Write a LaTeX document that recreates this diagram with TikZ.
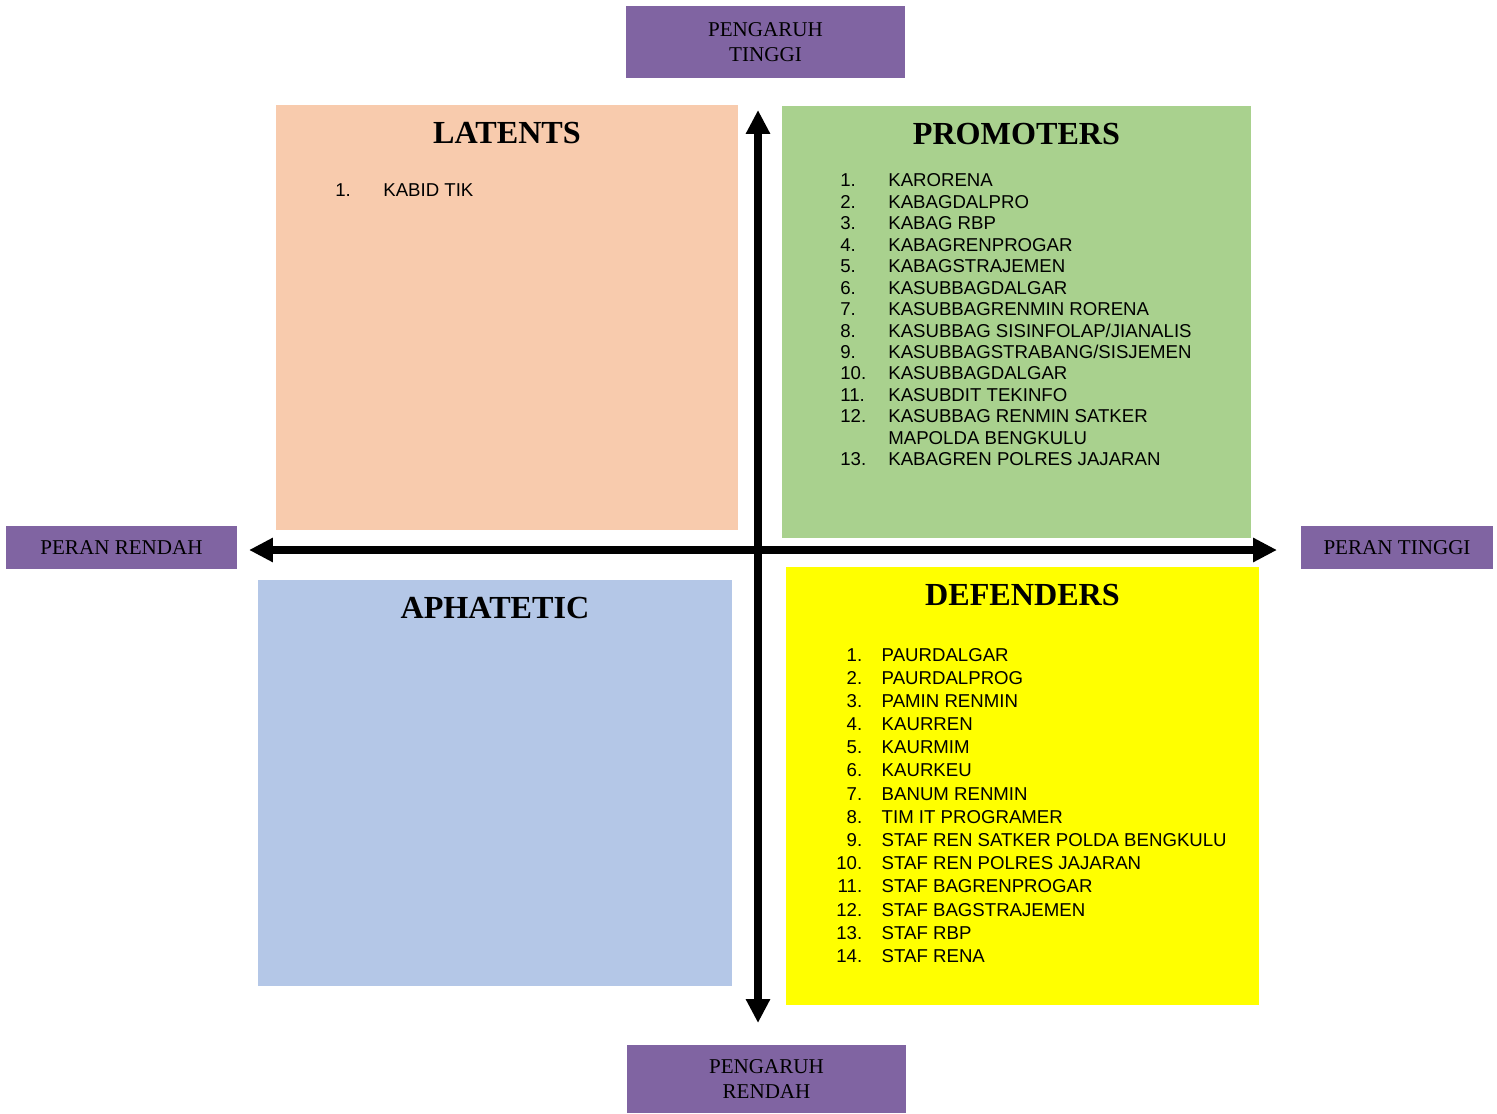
\documentclass[tikz,border=0pt]{standalone}
\usepackage{fontspec}
\setmainfont{Liberation Serif}
\setsansfont{Liberation Sans}
\usetikzlibrary{arrows.meta,positioning,calc}
\definecolor{Plum}{HTML}{8064A2}
\definecolor{Peach}{HTML}{F8CBAD}
\definecolor{Leaf}{HTML}{A9D18E}
\definecolor{Sky}{HTML}{B4C7E7}
\definecolor{Lemon}{HTML}{FFFF00}
\tikzset{
  axislabel/.style={fill=Plum,inner sep=0pt,outer sep=0pt,align=center,font=\fontsize{12}{14.2}\selectfont,text=black},
  quadbox/.style={inner sep=0pt,outer sep=0pt,anchor=north west},
  quadtitle/.style={font=\fontsize{18.3}{20}\selectfont\bfseries,text=black},
  itemlist/.style={inner sep=0pt,anchor=base west,font=\sffamily\fontsize{10.6}{12.2}\selectfont,text=black},
  axis/.style={{Triangle[length=0.48cm,width=0.46cm]}-{Triangle[length=0.48cm,width=0.46cm]},line width=0.15cm,draw=black}
}

\begin{document}
\begin{tikzpicture}[x=0.02cm,y=-0.02cm]
  \useasboundingbox (0,0) rectangle (1497,1114);
  % four quadrants
  \node[quadbox,fill=Peach,minimum width=9.24cm,minimum height=8.5cm] (latent) at (276,105) {};
  \node[quadbox,fill=Leaf,minimum width=9.38cm,minimum height=8.64cm] (promoter) at (782,106) {};
  \node[quadbox,fill=Sky,minimum width=9.48cm,minimum height=8.12cm] (apathy) at (258,580) {};
  \node[quadbox,fill=Lemon,minimum width=9.46cm,minimum height=8.76cm] (defender) at (786,567) {};
  \node[quadtitle] at ($(latent.north)+(0,28.5)$) {LATENTS};
  \node[quadtitle] at ($(promoter.north)+(0,28.5)$) {PROMOTERS};
  \node[quadtitle] at ($(apathy.north)+(0,28.5)$) {APHATETIC};
  \node[quadtitle] at ($(defender.north)+(0,28.5)$) {DEFENDERS};
  % member lists
  \node[itemlist] (latentlist) at (335,197) {\begin{tabular}[t]{@{}p{0.96cm}@{}l@{}}
    1. & KABID TIK
  \end{tabular}};
  \node[itemlist] (promoterlist) at (840,187) {\begin{tabular}[t]{@{}p{0.96cm}@{}l@{}}
    1. & KARORENA\\
    2. & KABAGDALPRO\\
    3. & KABAG RBP\\
    4. & KABAGRENPROGAR\\
    5. & KABAGSTRAJEMEN\\
    6. & KASUBBAGDALGAR\\
    7. & KASUBBAGRENMIN RORENA\\
    8. & KASUBBAG SISINFOLAP/JIANALIS\\
    9. & KASUBBAGSTRABANG/SISJEMEN\\
    10. & KASUBBAGDALGAR\\
    11. & KASUBDIT TEKINFO\\
    12. & KASUBBAG RENMIN SATKER\\
        & MAPOLDA BENGKULU\\
    13. & KABAGREN POLRES JAJARAN
  \end{tabular}};
  \node[itemlist,font=\sffamily\fontsize{10.6}{13.2}\selectfont] (defenderlist) at (836,661) {\begin{tabular}[t]{@{}r@{\hspace{0.39cm}}l@{}}
    1. & PAURDALGAR\\
    2. & PAURDALPROG\\
    3. & PAMIN RENMIN\\
    4. & KAURREN\\
    5. & KAURMIM\\
    6. & KAURKEU\\
    7. & BANUM RENMIN\\
    8. & TIM IT PROGRAMER\\
    9. & STAF REN SATKER POLDA BENGKULU\\
    10. & STAF REN POLRES JAJARAN\\
    11. & STAF BAGRENPROGAR\\
    12. & STAF BAGSTRAJEMEN\\
    13. & STAF RBP\\
    14. & STAF RENA
  \end{tabular}};
  % axis labels
  \node[axislabel,minimum width=5.58cm,minimum height=1.44cm] (high) at (765.5,42) {PENGARUH\\TINGGI};
  \node[axislabel,minimum width=5.58cm,minimum height=1.36cm] (low) at (766.5,1079) {PENGARUH\\RENDAH};
  \node[axislabel,minimum width=4.62cm,minimum height=0.86cm] (rolelow) at (121.5,547.5) {PERAN RENDAH};
  \node[axislabel,minimum width=3.84cm,minimum height=0.86cm] (rolehigh) at (1397,547.5) {PERAN TINGGI};
  % axes
  \coordinate (vtop) at (758,110);
  \coordinate (vbot) at (758,1023);
  \coordinate (hleft) at (249,550);
  \coordinate (hright) at (1277,550);
  \draw[axis] (vbot) -- (vtop);
  \draw[axis] (hleft) -- (hright);
\end{tikzpicture}
\end{document}
